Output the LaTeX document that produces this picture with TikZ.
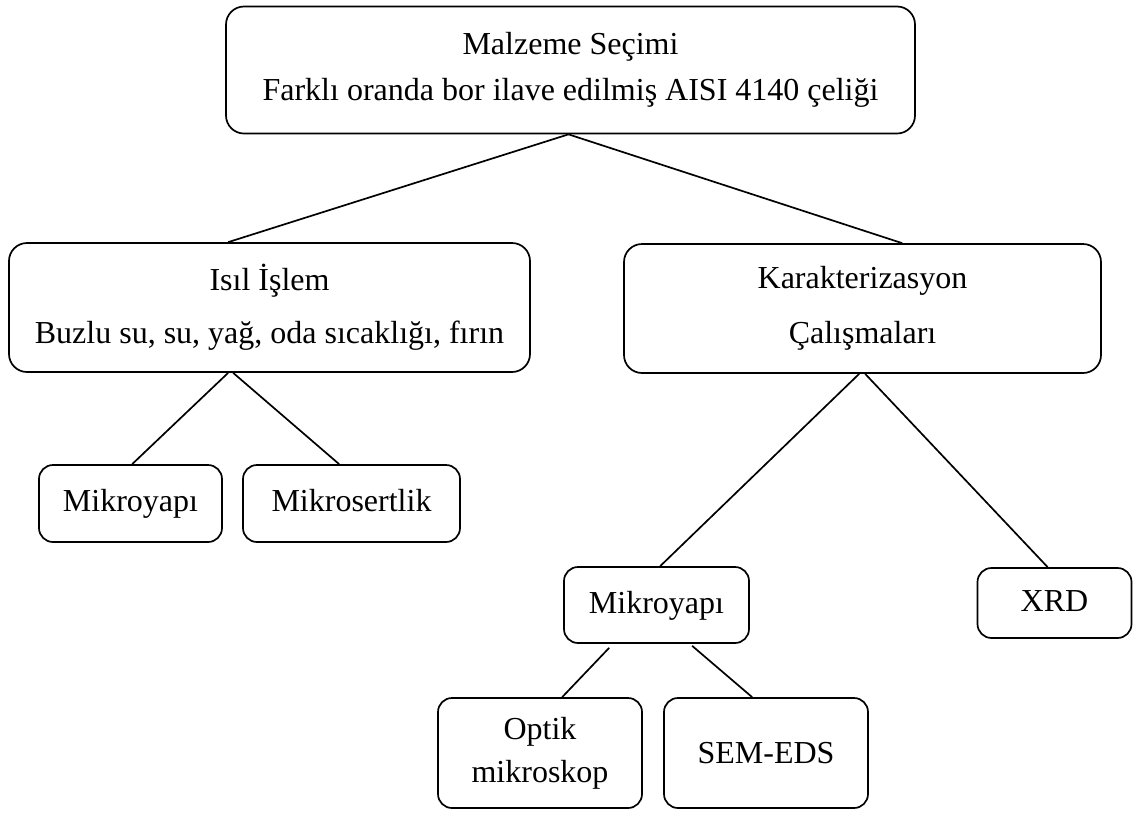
\documentclass[tikz,border=0pt]{standalone}
\usepackage{fontspec}
\setmainfont{Liberation Serif}
\begin{document}
\begin{tikzpicture}[x=1pt,y=-1pt,
  box/.style={draw, line width=1.7pt, rounded corners=18pt, inner sep=0pt, align=center,
     font=\fontsize{32}{46}\selectfont},
  sbox/.style={box, rounded corners=14pt},
  sline/.style={sbox, text height=23pt, text depth=7pt},
  conn/.style={line width=1.7pt}]
\useasboundingbox (0,0) rectangle (1134,812);
\node[box, minimum width=689pt, minimum height=127pt, font=\fontsize{32}{46}\selectfont] (top) at (570.5,70)
  {\raisebox{-2pt}{Malzeme Seçimi}\\\raisebox{-2pt}{Farklı oranda bor ilave edilmiş AISI 4140 çeliği}};
\node[box, minimum width=521pt, minimum height=129pt, font=\fontsize{32}{53}\selectfont] (isil) at (269.5,307.5)
  {Isıl İşlem\\Buzlu su, su, yağ, oda sıcaklığı, fırın};
\node[box, minimum width=477pt, minimum height=129pt, font=\fontsize{32}{55}\selectfont] (kar) at (862.5,308.5)
  {Karakterizasyon\\Çalışmaları};
\node[sline, minimum width=183pt, minimum height=77pt] (m1) at (130.5,503.5) {Mikroyapı};
\node[sline, minimum width=217pt, minimum height=77pt] (ms) at (351.5,503.5) {Mikrosertlik};
\node[sline, minimum width=185pt, minimum height=76pt] (m2) at (656.5,605) {Mikroyapı};
\node[sline, minimum width=154pt, minimum height=70pt] (xrd) at (1054.5,603) {XRD};
\node[sbox, minimum width=204pt, minimum height=110pt, font=\fontsize{32}{43}\selectfont] (opt) at (540,753) {Optik\\mikroskop};
\node[sbox, minimum width=204pt, minimum height=110pt] (sem) at (766,753) {\raisebox{-10pt}{SEM-EDS}};
\draw[conn] ([xshift=-2pt]top.south) -- ([xshift=220pt]isil.north west);
\draw[conn] ([xshift=-2pt]top.south) -- ([xshift=279pt]kar.north west);
\draw[conn] ([xshift=220pt]isil.south west) -- ([xshift=94pt]m1.north west);
\draw[conn] ([xshift=225pt]isil.south west) -- ([xshift=97pt]ms.north west);
\draw[conn] ([xshift=236pt]kar.south west) -- ([xshift=97pt]m2.north west);
\draw[conn] ([xshift=242pt]kar.south west) -- ([xshift=71pt]xrd.north west);
\draw[conn] ([xshift=46pt,yshift=-4pt]m2.south west) -- ([xshift=125pt]opt.north west);
\draw[conn] ([xshift=129pt,yshift=-2pt]m2.south west) -- ([xshift=89pt]sem.north west);
\end{tikzpicture}
\end{document}
